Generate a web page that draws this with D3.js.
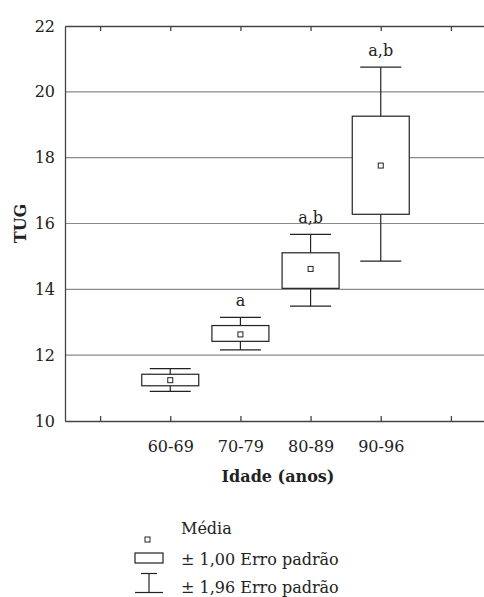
<!DOCTYPE html>
<html>
<head>
<meta charset="utf-8">
<script src="https://cdn.jsdelivr.net/npm/d3@7"></script>
<style>
  body { margin: 0; background: #fff; }
  svg { display: block; }
  text { font-family: "DejaVu Serif", serif; fill: #222; }
</style>
</head>
<body>
<svg id="chart" width="484" height="597"></svg>
<script>
// data (TUG by age group)
let categories = ["60-69", "70-79", "80-89", "90-96"];
let means      = [11.24, 12.63, 14.62, 17.76];
let boxLow     = [11.07, 12.42, 14.03, 16.28];  // mean - 1.00 SE
let boxHigh    = [11.42, 12.90, 15.11, 19.26];  // mean + 1.00 SE
let whiskLow   = [10.90, 12.16, 13.49, 14.86];  // mean - 1.96 SE
let whiskHigh  = [11.59, 13.15, 15.67, 20.75];  // mean + 1.96 SE
let sigLabels  = ["", "a", "a,b", "a,b"];
let yTicks     = [10, 12, 14, 16, 18, 20, 22];
let legendLabels = ["Média", "\u00b1 1,00 Erro padrão", "\u00b1 1,96 Erro padrão"];

let data = categories.map(function(c, i) {
    return { cat: c, mean: means[i], lo: boxLow[i], hi: boxHigh[i],
             wlo: whiskLow[i], whi: whiskHigh[i], sig: sigLabels[i] };
});

let chart = d3.select("#chart");
let plotLeft = 65, plotRight = 486, plotTop = 26, plotBottom = 421;

// x: one empty slot either side of the four groups
let xDomain = ["pre"].concat(categories).concat(["post"]);
let x = d3.scalePoint()
    .domain(xDomain)
    .range([plotLeft, plotRight])
    .padding(0.5);

let y = d3.scaleLinear()
    .domain([10, 22])
    .range([plotBottom, plotTop]);

// grid lines
chart.append("g")
    .selectAll("line")
    .data(yTicks.filter(function(t) { return t > 10 && t < 22; }))
    .enter()
    .append("line")
    .attr("x1", plotLeft)
    .attr("x2", plotRight)
    .attr("y1", function(d) { return y(d); })
    .attr("y2", function(d) { return y(d); })
    .style("stroke", "#8a8a8a")
    .style("stroke-width", 1.2);

// bottom axis (ticks inward)
let xAxis = d3.axisBottom(x)
    .tickSizeInner(-5)
    .tickSizeOuter(0)
    .tickFormat(function(d) { return (d === "pre" || d === "post") ? "" : d; });
let xAxisGroup = chart.append("g")
    .attr("transform", "translate(0," + plotBottom + ")")
    .call(xAxis);
xAxisGroup.selectAll("text")
    .attr("y", 20)
    .style("font-size", "16px")
    .style("font-family", "DejaVu Serif, serif")
    .style("fill", "#222");

// top border with ticks
let topAxis = d3.axisTop(x)
    .tickSizeInner(-5)
    .tickSizeOuter(0)
    .tickFormat("");
chart.append("g")
    .attr("transform", "translate(0," + plotTop + ")")
    .call(topAxis);

chart.selectAll(".domain, .tick line")
    .style("stroke", "#444")
    .style("stroke-width", 1.3);

// left axis
let yAxis = d3.axisLeft(y)
    .tickValues(yTicks)
    .tickSize(0)
    .tickPadding(10);
let yAxisGroup = chart.append("g")
    .attr("transform", "translate(" + plotLeft + ",0)")
    .call(yAxis);
yAxisGroup.select(".domain")
    .style("stroke", "#444")
    .style("stroke-width", 1.3);
yAxisGroup.selectAll("text")
    .style("font-size", "16px")
    .style("font-family", "DejaVu Serif, serif")
    .style("fill", "#222");

// axis titles
chart.append("text")
    .text("TUG")
    .attr("transform", "translate(26," + y(16) + ") rotate(-90)")
    .style("text-anchor", "middle")
    .style("font-size", "16px")
    .style("font-weight", "bold");

chart.append("text")
    .text("Idade (anos)")
    .attr("x", 278)
    .attr("y", 482)
    .style("text-anchor", "middle")
    .style("font-size", "16px")
    .style("font-weight", "bold");

// boxes: mean +- SE and whiskers +- 1.96 SE
let boxW = 57, capW = 41, dot = 5;
let groups = chart.selectAll("g.grp")
    .data(data)
    .enter()
    .append("g")
    .attr("class", "grp");

groups.append("line")
    .attr("x1", function(d) { return x(d.cat); })
    .attr("x2", function(d) { return x(d.cat); })
    .attr("y1", function(d) { return y(d.whi); })
    .attr("y2", function(d) { return y(d.wlo); })
    .style("stroke", "#222")
    .style("stroke-width", 1.2);

groups.selectAll("line.cap")
    .data(function(d) { return [{ cat: d.cat, v: d.whi }, { cat: d.cat, v: d.wlo }]; })
    .enter()
    .append("line")
    .attr("class", "cap")
    .attr("x1", function(d) { return x(d.cat) - capW / 2; })
    .attr("x2", function(d) { return x(d.cat) + capW / 2; })
    .attr("y1", function(d) { return y(d.v); })
    .attr("y2", function(d) { return y(d.v); })
    .style("stroke", "#222")
    .style("stroke-width", 1.2);

groups.append("rect")
    .attr("x", function(d) { return x(d.cat) - boxW / 2; })
    .attr("y", function(d) { return y(d.hi); })
    .attr("width", boxW)
    .attr("height", function(d) { return y(d.lo) - y(d.hi); })
    .style("fill", "#fff")
    .style("stroke", "#222")
    .style("stroke-width", 1.2);

groups.append("rect")
    .attr("x", function(d) { return x(d.cat) - dot / 2; })
    .attr("y", function(d) { return y(d.mean) - dot / 2; })
    .attr("width", dot)
    .attr("height", dot)
    .style("fill", "#fff")
    .style("stroke", "#222")
    .style("stroke-width", 1);

groups.append("text")
    .text(function(d) { return d.sig; })
    .attr("x", function(d) { return x(d.cat); })
    .attr("y", function(d) { return y(d.whi) - 11; })
    .style("text-anchor", "middle")
    .style("font-size", "16px");

// legend
let lg = chart.append("g");
lg.append("rect")
    .attr("x", 145).attr("y", 537).attr("width", dot).attr("height", dot)
    .style("fill", "#fff").style("stroke", "#222").style("stroke-width", 1);
lg.append("rect")
    .attr("x", 135).attr("y", 553).attr("width", 28).attr("height", 10)
    .style("fill", "#fff").style("stroke", "#222").style("stroke-width", 1.2);
lg.append("line")
    .attr("x1", 141).attr("x2", 157).attr("y1", 573.5).attr("y2", 573.5)
    .style("stroke", "#222").style("stroke-width", 1.2);
lg.append("line")
    .attr("x1", 149).attr("x2", 149).attr("y1", 573.5).attr("y2", 592.5)
    .style("stroke", "#222").style("stroke-width", 1.2);
lg.append("line")
    .attr("x1", 135).attr("x2", 163).attr("y1", 592.5).attr("y2", 592.5)
    .style("stroke", "#222").style("stroke-width", 1.2);

lg.selectAll("text")
    .data(legendLabels)
    .enter()
    .append("text")
    .attr("x", 181)
    .attr("y", function(d, i) { return [534, 565, 593][i]; })
    .text(function(d) { return d; })
    .style("font-size", "16px");
</script>
</body>
</html>
